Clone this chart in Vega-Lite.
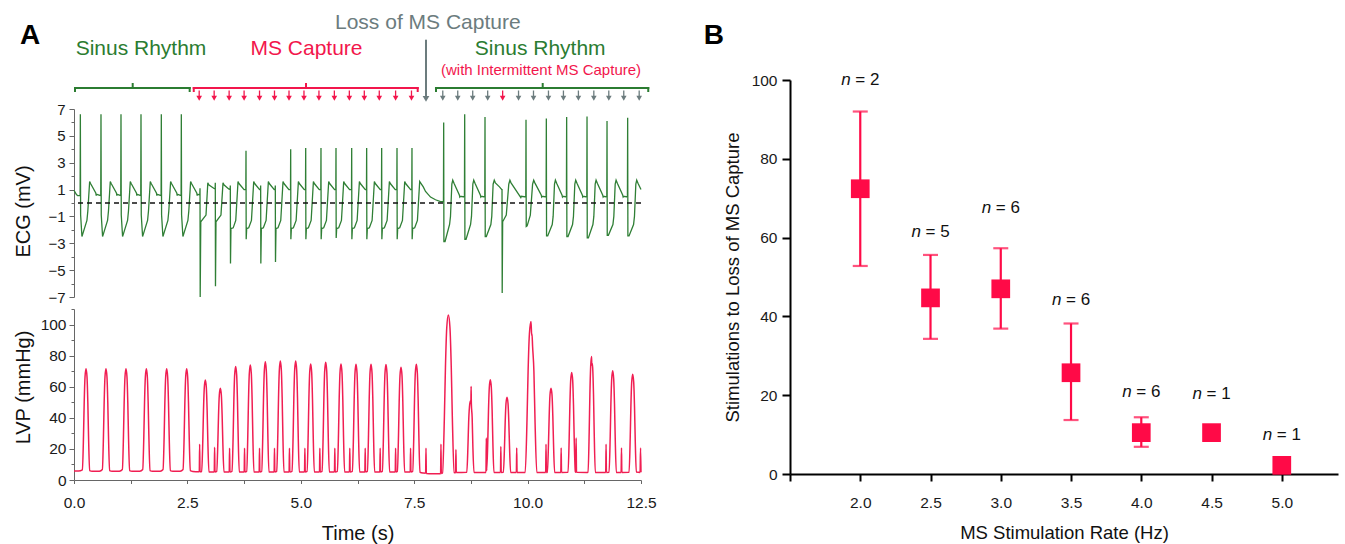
{
  "$schema": "https://vega.github.io/schema/vega-lite/v6.json",
  "background": "white",
  "padding": {"left": 12, "top": 9, "right": 5, "bottom": 5},
  "config": {
    "view": {"stroke": null},
    "font": "Liberation Sans",
    "axis": {"grid": false, "labelFont": "Liberation Sans", "titleFont": "Liberation Sans", "titleFontWeight": "normal", "labelColor": "#1a1a1a", "titleColor": "#111111", "labelOverlap": false, "labelFlush": false, "labelBound": false}
  },
  "datasets": {
    "ecg": [
      {"t":0,"v":0.95},{"t":0.05,"v":0.65},{"t":0.08,"v":0.55},{"t":0.135,"v":0.55},
      {"t":0.14,"v":6.6},{"t":0.146,"v":-0.9},{"t":0.175,"v":-2.5},{"t":0.285,"v":-1.3},{"t":0.305,"v":-0.6},{"t":0.345,"v":1.6},{"t":0.365,"v":1.45},{"t":0.48,"v":0.75},{"t":0.49,"v":0.55},{"t":0.5,"v":0.65},{"t":0.59,"v":0.55},
      {"t":0.595,"v":6.6},{"t":0.601,"v":-0.9},{"t":0.63,"v":-2.5},{"t":0.74,"v":-1.3},{"t":0.76,"v":-0.6},{"t":0.8,"v":1.6},{"t":0.82,"v":1.45},{"t":0.935,"v":0.75},{"t":0.945,"v":0.55},{"t":0.955,"v":0.65},{"t":1.031,"v":0.55},
      {"t":1.036,"v":6.6},{"t":1.042,"v":-0.9},{"t":1.071,"v":-2.5},{"t":1.181,"v":-1.3},{"t":1.201,"v":-0.6},{"t":1.241,"v":1.6},{"t":1.261,"v":1.45},{"t":1.376,"v":0.75},{"t":1.386,"v":0.55},{"t":1.396,"v":0.65},{"t":1.472,"v":0.55},
      {"t":1.477,"v":6.6},{"t":1.483,"v":-0.9},{"t":1.512,"v":-2.5},{"t":1.622,"v":-1.3},{"t":1.642,"v":-0.6},{"t":1.682,"v":1.6},{"t":1.702,"v":1.45},{"t":1.817,"v":0.75},{"t":1.827,"v":0.55},{"t":1.837,"v":0.65},{"t":1.92,"v":0.55},
      {"t":1.925,"v":6.6},{"t":1.931,"v":-0.9},{"t":1.96,"v":-2.5},{"t":2.07,"v":-1.3},{"t":2.09,"v":-0.6},{"t":2.13,"v":1.6},{"t":2.15,"v":1.45},{"t":2.265,"v":0.75},{"t":2.275,"v":0.55},{"t":2.285,"v":0.65},{"t":2.361,"v":0.55},
      {"t":2.366,"v":6.6},{"t":2.372,"v":-0.9},{"t":2.401,"v":-2.5},{"t":2.511,"v":-1.3},{"t":2.531,"v":-0.6},{"t":2.571,"v":1.6},{"t":2.591,"v":1.45},{"t":2.706,"v":0.75},{"t":2.716,"v":0.55},{"t":2.726,"v":0.65},{"t":2.773,"v":0.6},
      {"t":2.778,"v":1.1},{"t":2.782,"v":-7.0},{"t":2.795,"v":-1.4},{"t":2.91,"v":-0.9},{"t":2.95,"v":1.5},{"t":2.97,"v":1.35},{"t":3.08,"v":1.1},{"t":3.111,"v":1.05},
      {"t":3.115,"v":1.5},{"t":3.119,"v":-6.2},{"t":3.13,"v":-1.4},{"t":3.24,"v":-0.9},{"t":3.285,"v":1.5},{"t":3.305,"v":1.35},{"t":3.41,"v":1.05},{"t":3.442,"v":1.0},
      {"t":3.446,"v":1.3},{"t":3.45,"v":-4.5},{"t":3.46,"v":-1.9},{"t":3.51,"v":-1.85},{"t":3.566,"v":-1.3},{"t":3.616,"v":1.6},{"t":3.636,"v":1.45},{"t":3.75,"v":1.0},{"t":3.788,"v":1.0},
      {"t":3.792,"v":3.9},{"t":3.796,"v":-2.7},{"t":3.807,"v":-1.9},{"t":3.852,"v":-1.85},{"t":3.912,"v":-1.3},{"t":3.962,"v":1.6},{"t":3.982,"v":1.45},{"t":4.092,"v":1.0},{"t":4.111,"v":1.0},
      {"t":4.115,"v":1.3},{"t":4.119,"v":-4.5},{"t":4.13,"v":-1.9},{"t":4.175,"v":-1.85},{"t":4.235,"v":-1.3},{"t":4.285,"v":1.6},{"t":4.305,"v":1.45},{"t":4.415,"v":1.0},{"t":4.434,"v":1.0},
      {"t":4.438,"v":1.3},{"t":4.442,"v":-4.4},{"t":4.453,"v":-1.9},{"t":4.498,"v":-1.85},{"t":4.558,"v":-1.3},{"t":4.608,"v":1.6},{"t":4.628,"v":1.45},{"t":4.738,"v":1.0},{"t":4.773,"v":1.0},
      {"t":4.777,"v":4.0},{"t":4.781,"v":-2.7},{"t":4.792,"v":-1.9},{"t":4.837,"v":-1.85},{"t":4.897,"v":-1.3},{"t":4.947,"v":1.6},{"t":4.967,"v":1.45},{"t":5.077,"v":1.0},{"t":5.104,"v":1.0},
      {"t":5.108,"v":4.1},{"t":5.112,"v":-2.7},{"t":5.123,"v":-1.9},{"t":5.168,"v":-1.85},{"t":5.228,"v":-1.3},{"t":5.278,"v":1.6},{"t":5.298,"v":1.45},{"t":5.408,"v":1.0},{"t":5.441,"v":1.0},
      {"t":5.445,"v":4.1},{"t":5.449,"v":-2.7},{"t":5.46,"v":-1.9},{"t":5.505,"v":-1.85},{"t":5.565,"v":-1.3},{"t":5.615,"v":1.6},{"t":5.635,"v":1.45},{"t":5.745,"v":1.0},{"t":5.772,"v":1.0},
      {"t":5.776,"v":4.1},{"t":5.78,"v":-2.6},{"t":5.791,"v":-1.9},{"t":5.836,"v":-1.85},{"t":5.896,"v":-1.3},{"t":5.946,"v":1.6},{"t":5.966,"v":1.45},{"t":6.076,"v":1.0},{"t":6.118,"v":1.0},
      {"t":6.122,"v":4.1},{"t":6.126,"v":-2.7},{"t":6.137,"v":-1.9},{"t":6.182,"v":-1.85},{"t":6.242,"v":-1.3},{"t":6.292,"v":1.6},{"t":6.312,"v":1.45},{"t":6.422,"v":1.0},{"t":6.448,"v":1.0},
      {"t":6.452,"v":4.1},{"t":6.456,"v":-2.7},{"t":6.467,"v":-1.9},{"t":6.512,"v":-1.85},{"t":6.572,"v":-1.3},{"t":6.622,"v":1.6},{"t":6.642,"v":1.45},{"t":6.752,"v":1.0},{"t":6.779,"v":1.0},
      {"t":6.783,"v":4.1},{"t":6.787,"v":-2.7},{"t":6.798,"v":-1.9},{"t":6.843,"v":-1.85},{"t":6.903,"v":-1.3},{"t":6.953,"v":1.6},{"t":6.973,"v":1.45},{"t":7.083,"v":1.0},{"t":7.117,"v":1.0},
      {"t":7.121,"v":4.1},{"t":7.125,"v":-2.7},{"t":7.136,"v":-1.9},{"t":7.181,"v":-1.85},{"t":7.241,"v":-1.3},{"t":7.291,"v":1.6},{"t":7.311,"v":1.45},{"t":7.421,"v":1.0},{"t":7.447,"v":1.0},
      {"t":7.451,"v":4.1},{"t":7.455,"v":-2.7},{"t":7.466,"v":-1.9},{"t":7.511,"v":-1.85},{"t":7.571,"v":-1.3},{"t":7.621,"v":1.6},{"t":7.641,"v":1.5},{"t":7.7,"v":1.2},{"t":7.75,"v":0.86},{"t":7.86,"v":0.44},{"t":7.97,"v":0.24},{"t":8.08,"v":0.1},{"t":8.145,"v":0.1},
      {"t":8.15,"v":6.0},{"t":8.155,"v":-2.87},{"t":8.18,"v":-2.87},{"t":8.28,"v":-1.6},{"t":8.3,"v":-1.0},{"t":8.33,"v":1.4},{"t":8.35,"v":1.7},{"t":8.38,"v":1.45},{"t":8.495,"v":0.6},{"t":8.505,"v":0.45},{"t":8.515,"v":0.5},{"t":8.608,"v":0.45},
      {"t":8.613,"v":6.6},{"t":8.618,"v":-2.7},{"t":8.643,"v":-2.7},{"t":8.743,"v":-1.6},{"t":8.763,"v":-1.0},{"t":8.793,"v":1.4},{"t":8.813,"v":1.7},{"t":8.843,"v":1.45},{"t":8.958,"v":0.6},{"t":8.968,"v":0.45},{"t":8.978,"v":0.5},{"t":9.056,"v":0.45},
      {"t":9.061,"v":6.4},{"t":9.066,"v":-2.5},{"t":9.09,"v":-2.5},{"t":9.19,"v":-1.6},{"t":9.21,"v":-1.0},{"t":9.24,"v":1.4},{"t":9.265,"v":1.7},{"t":9.29,"v":1.5},{"t":9.38,"v":1.2},{"t":9.431,"v":1.0},
      {"t":9.436,"v":1.0},{"t":9.44,"v":-6.7},{"t":9.45,"v":-1.4},{"t":9.53,"v":-0.9},{"t":9.585,"v":1.4},{"t":9.61,"v":1.7},{"t":9.635,"v":1.5},{"t":9.84,"v":0.45},{"t":9.85,"v":0.4},{"t":9.86,"v":0.5},{"t":9.96,"v":0.45},
      {"t":9.965,"v":6.2},{"t":9.97,"v":-1.75},{"t":9.99,"v":-1.7},{"t":10.06,"v":-0.9},{"t":10.11,"v":1.4},{"t":10.135,"v":1.7},{"t":10.16,"v":1.5},{"t":10.3,"v":0.6},{"t":10.31,"v":0.45},{"t":10.32,"v":0.5},{"t":10.408,"v":0.45},
      {"t":10.413,"v":6.3},{"t":10.418,"v":-2.45},{"t":10.443,"v":-2.45},{"t":10.543,"v":-1.6},{"t":10.563,"v":-1.0},{"t":10.593,"v":1.4},{"t":10.613,"v":1.7},{"t":10.643,"v":1.45},{"t":10.758,"v":0.6},{"t":10.768,"v":0.45},{"t":10.778,"v":0.5},{"t":10.856,"v":0.45},
      {"t":10.861,"v":6.4},{"t":10.866,"v":-2.5},{"t":10.891,"v":-2.5},{"t":10.991,"v":-1.6},{"t":11.011,"v":-1.0},{"t":11.041,"v":1.4},{"t":11.061,"v":1.7},{"t":11.091,"v":1.45},{"t":11.206,"v":0.6},{"t":11.216,"v":0.45},{"t":11.226,"v":0.5},{"t":11.305,"v":0.45},
      {"t":11.31,"v":6.45},{"t":11.315,"v":-2.6},{"t":11.34,"v":-2.6},{"t":11.44,"v":-1.6},{"t":11.46,"v":-1.0},{"t":11.49,"v":1.4},{"t":11.51,"v":1.7},{"t":11.54,"v":1.45},{"t":11.655,"v":0.6},{"t":11.665,"v":0.45},{"t":11.675,"v":0.5},{"t":11.746,"v":0.45},
      {"t":11.751,"v":6.1},{"t":11.756,"v":-2.4},{"t":11.781,"v":-2.4},{"t":11.881,"v":-1.6},{"t":11.901,"v":-1.0},{"t":11.931,"v":1.4},{"t":11.951,"v":1.7},{"t":11.981,"v":1.45},{"t":12.096,"v":0.6},{"t":12.106,"v":0.45},{"t":12.116,"v":0.5},{"t":12.201,"v":0.45},
      {"t":12.206,"v":6.35},{"t":12.211,"v":-2.45},{"t":12.236,"v":-2.45},{"t":12.336,"v":-1.6},{"t":12.356,"v":-1.0},{"t":12.386,"v":1.4},{"t":12.406,"v":1.7},{"t":12.436,"v":1.45},{"t":12.5,"v":1.0}
    ],
    "lvp": [
      {"t":0,"p":5.8},{"t":0.1,"p":5.8},
      {"t":0.185,"p":6.5},{"t":0.21,"p":28.9},{"t":0.225,"p":49.9},{"t":0.243,"p":66.3},{"t":0.265,"p":71.5},{"t":0.287,"p":66.3},{"t":0.305,"p":49.9},{"t":0.32,"p":28.9},{"t":0.345,"p":6.0},{"t":0.4,"p":5.6},{"t":0.56,"p":5.7},
      {"t":0.625,"p":6.8},{"t":0.65,"p":28.9},{"t":0.665,"p":49.9},{"t":0.683,"p":66.3},{"t":0.705,"p":71.5},{"t":0.727,"p":66.3},{"t":0.745,"p":49.9},{"t":0.76,"p":28.9},{"t":0.785,"p":6.0},{"t":0.84,"p":5.6},{"t":1.0,"p":5.7},
      {"t":1.066,"p":6.8},{"t":1.091,"p":28.9},{"t":1.106,"p":49.9},{"t":1.124,"p":66.3},{"t":1.146,"p":71.5},{"t":1.168,"p":66.3},{"t":1.186,"p":49.9},{"t":1.201,"p":28.9},{"t":1.226,"p":6.0},{"t":1.28,"p":5.6},{"t":1.45,"p":5.7},
      {"t":1.515,"p":6.8},{"t":1.54,"p":28.9},{"t":1.555,"p":49.9},{"t":1.573,"p":66.3},{"t":1.595,"p":71.5},{"t":1.617,"p":66.3},{"t":1.635,"p":49.9},{"t":1.65,"p":28.9},{"t":1.675,"p":6.0},{"t":1.73,"p":5.6},{"t":1.9,"p":5.7},
      {"t":1.963,"p":6.8},{"t":1.988,"p":28.9},{"t":2.003,"p":49.9},{"t":2.021,"p":66.3},{"t":2.043,"p":71.5},{"t":2.065,"p":66.3},{"t":2.083,"p":49.9},{"t":2.098,"p":28.9},{"t":2.123,"p":6.0},{"t":2.18,"p":5.6},{"t":2.34,"p":5.7},
      {"t":2.404,"p":6.8},{"t":2.429,"p":28.9},{"t":2.444,"p":49.9},{"t":2.462,"p":66.3},{"t":2.484,"p":71.5},{"t":2.506,"p":66.3},{"t":2.524,"p":49.9},{"t":2.539,"p":28.9},{"t":2.564,"p":6.0},{"t":2.62,"p":5.5},{"t":2.755,"p":5.3},
      {"t":2.762,"p":5.3},{"t":2.77,"p":23},{"t":2.778,"p":5.3},
      {"t":2.815,"p":5.5},{"t":2.84,"p":25.9},{"t":2.855,"p":44.9},{"t":2.873,"p":59.7},{"t":2.895,"p":64.4},{"t":2.917,"p":59.7},{"t":2.935,"p":44.9},{"t":2.95,"p":25.9},{"t":2.975,"p":5.2},{"t":3.092,"p":5.1},
      {"t":3.1,"p":21},{"t":3.108,"p":5.1},
      {"t":3.146,"p":5.5},{"t":3.171,"p":24.1},{"t":3.186,"p":41.3},{"t":3.204,"p":54.8},{"t":3.226,"p":59.1},{"t":3.248,"p":54.8},{"t":3.266,"p":41.3},{"t":3.281,"p":24.1},{"t":3.306,"p":5.2},{"t":3.422,"p":5.1},
      {"t":3.43,"p":20.5},{"t":3.438,"p":5.1},
      {"t":3.484,"p":5.5},{"t":3.509,"p":28.9},{"t":3.524,"p":50.6},{"t":3.542,"p":67.6},{"t":3.564,"p":73},{"t":3.586,"p":67.6},{"t":3.604,"p":50.6},{"t":3.619,"p":28.9},{"t":3.644,"p":5.2},{"t":3.752,"p":5.1},
      {"t":3.76,"p":20.5},{"t":3.768,"p":5.1},
      {"t":3.807,"p":5.5},{"t":3.832,"p":29.3},{"t":3.847,"p":51.3},{"t":3.865,"p":68.5},{"t":3.887,"p":74},{"t":3.909,"p":68.5},{"t":3.927,"p":51.3},{"t":3.942,"p":29.3},{"t":3.967,"p":5.2},{"t":4.082,"p":5.1},
      {"t":4.09,"p":20.5},{"t":4.098,"p":5.1},
      {"t":4.138,"p":5.5},{"t":4.163,"p":30.0},{"t":4.178,"p":52.6},{"t":4.196,"p":70.3},{"t":4.218,"p":76},{"t":4.24,"p":70.3},{"t":4.258,"p":52.6},{"t":4.273,"p":30.0},{"t":4.298,"p":5.2},{"t":4.412,"p":5.1},
      {"t":4.42,"p":20.5},{"t":4.428,"p":5.1},
      {"t":4.469,"p":5.5},{"t":4.494,"p":30.2},{"t":4.509,"p":53.0},{"t":4.527,"p":70.8},{"t":4.549,"p":76.5},{"t":4.571,"p":70.8},{"t":4.589,"p":53.0},{"t":4.604,"p":30.2},{"t":4.629,"p":5.2},{"t":4.742,"p":5.1},
      {"t":4.75,"p":20.5},{"t":4.758,"p":5.1},
      {"t":4.807,"p":5.5},{"t":4.832,"p":30.2},{"t":4.847,"p":53.0},{"t":4.865,"p":70.8},{"t":4.887,"p":76.5},{"t":4.909,"p":70.8},{"t":4.927,"p":53.0},{"t":4.942,"p":30.2},{"t":4.967,"p":5.2},{"t":5.082,"p":5.1},
      {"t":5.09,"p":20.5},{"t":5.098,"p":5.1},
      {"t":5.138,"p":5.5},{"t":5.163,"p":29.5},{"t":5.178,"p":51.8},{"t":5.196,"p":69.1},{"t":5.218,"p":74.7},{"t":5.24,"p":69.1},{"t":5.258,"p":51.8},{"t":5.273,"p":29.5},{"t":5.298,"p":5.2},{"t":5.412,"p":5.1},
      {"t":5.42,"p":20.5},{"t":5.428,"p":5.1},
      {"t":5.469,"p":5.5},{"t":5.494,"p":29.9},{"t":5.509,"p":52.5},{"t":5.527,"p":70.2},{"t":5.549,"p":75.8},{"t":5.571,"p":70.2},{"t":5.589,"p":52.5},{"t":5.604,"p":29.9},{"t":5.629,"p":5.2},{"t":5.742,"p":5.1},
      {"t":5.75,"p":20.5},{"t":5.758,"p":5.1},
      {"t":5.806,"p":5.5},{"t":5.831,"p":29.5},{"t":5.846,"p":51.7},{"t":5.864,"p":69.0},{"t":5.886,"p":74.6},{"t":5.908,"p":69.0},{"t":5.926,"p":51.7},{"t":5.941,"p":29.5},{"t":5.966,"p":5.2},{"t":6.072,"p":5.1},
      {"t":6.08,"p":20.5},{"t":6.088,"p":5.1},
      {"t":6.137,"p":5.5},{"t":6.162,"p":29.5},{"t":6.177,"p":51.7},{"t":6.195,"p":69.0},{"t":6.217,"p":74.5},{"t":6.239,"p":69.0},{"t":6.257,"p":51.7},{"t":6.272,"p":29.5},{"t":6.297,"p":5.2},{"t":6.412,"p":5.1},
      {"t":6.42,"p":20.5},{"t":6.428,"p":5.1},
      {"t":6.468,"p":5.5},{"t":6.493,"p":29.5},{"t":6.508,"p":51.7},{"t":6.526,"p":69.0},{"t":6.548,"p":74.5},{"t":6.57,"p":69.0},{"t":6.588,"p":51.7},{"t":6.603,"p":29.5},{"t":6.628,"p":5.2},{"t":6.742,"p":5.1},
      {"t":6.75,"p":20.5},{"t":6.758,"p":5.1},
      {"t":6.798,"p":5.5},{"t":6.823,"p":29.4},{"t":6.838,"p":51.5},{"t":6.856,"p":68.8},{"t":6.878,"p":74.3},{"t":6.9,"p":68.8},{"t":6.918,"p":51.5},{"t":6.933,"p":29.4},{"t":6.958,"p":5.2},{"t":7.082,"p":5.1},
      {"t":7.09,"p":20.5},{"t":7.098,"p":5.1},
      {"t":7.129,"p":5.5},{"t":7.154,"p":28.8},{"t":7.169,"p":50.4},{"t":7.187,"p":67.2},{"t":7.209,"p":72.6},{"t":7.231,"p":67.2},{"t":7.249,"p":50.4},{"t":7.264,"p":28.8},{"t":7.289,"p":5.2},{"t":7.412,"p":5.1},
      {"t":7.42,"p":20.5},{"t":7.428,"p":5.1},
      {"t":7.467,"p":5.5},{"t":7.492,"p":29.5},{"t":7.507,"p":51.7},{"t":7.525,"p":69.0},{"t":7.547,"p":74.5},{"t":7.569,"p":69.0},{"t":7.587,"p":51.7},{"t":7.602,"p":29.5},{"t":7.627,"p":5.0},{"t":7.7,"p":4.5},{"t":7.752,"p":4.4},
      {"t":7.76,"p":20.5},{"t":7.768,"p":4.2},{"t":7.9,"p":4.0},{"t":8.082,"p":4.0},
      {"t":8.09,"p":23},{"t":8.098,"p":4.2},
      {"t":8.125,"p":4.5},{"t":8.165,"p":40.1},{"t":8.189,"p":72.6},{"t":8.218,"p":98.1},{"t":8.253,"p":106.2},{"t":8.288,"p":98.1},{"t":8.317,"p":72.6},{"t":8.341,"p":40.1},{"t":8.381,"p":4.8},{"t":8.412,"p":4.6},
      {"t":8.42,"p":19.6},{"t":8.428,"p":4.8},
      {"t":8.66,"p":5.0},{"t":8.685,"p":22},{"t":8.7,"p":37},{"t":8.718,"p":47},{"t":8.74,"p":51},{"t":8.75,"p":50},{"t":8.755,"p":60.2},{"t":8.76,"p":49},{"t":8.778,"p":40},{"t":8.793,"p":22},{"t":8.818,"p":4.9},{"t":9.0,"p":4.9},{"t":9.082,"p":4.9},
      {"t":9.09,"p":27},{"t":9.098,"p":6},
      {"t":9.123,"p":25.8},{"t":9.138,"p":44.8},{"t":9.156,"p":59.7},{"t":9.178,"p":64.5},{"t":9.2,"p":59.7},{"t":9.218,"p":44.8},{"t":9.233,"p":25.8},{"t":9.258,"p":4.9},{"t":9.402,"p":4.9},
      {"t":9.41,"p":21.5},{"t":9.418,"p":4.9},
      {"t":9.466,"p":5.0},{"t":9.491,"p":21.8},{"t":9.506,"p":37.3},{"t":9.524,"p":49.4},{"t":9.546,"p":53.3},{"t":9.568,"p":49.4},{"t":9.586,"p":37.3},{"t":9.601,"p":21.8},{"t":9.626,"p":4.9},{"t":9.752,"p":4.9},
      {"t":9.76,"p":20.6},{"t":9.768,"p":4.9},
      {"t":9.947,"p":4.9},{"t":9.987,"p":38.9},{"t":10.011,"p":69.9},{"t":10.04,"p":94.1},{"t":10.075,"p":101.9},{"t":10.09,"p":93},{"t":10.097,"p":94},{"t":10.11,"p":86},{"t":10.139,"p":69.9},{"t":10.163,"p":38.9},{"t":10.203,"p":4.9},{"t":10.398,"p":4.9},
      {"t":10.406,"p":23},{"t":10.414,"p":4.9},
      {"t":10.436,"p":5.0},{"t":10.461,"p":23.9},{"t":10.476,"p":41.2},{"t":10.494,"p":54.8},{"t":10.516,"p":59.1},{"t":10.538,"p":54.8},{"t":10.556,"p":41.2},{"t":10.571,"p":23.9},{"t":10.596,"p":4.9},{"t":10.732,"p":4.9},
      {"t":10.74,"p":20.6},{"t":10.748,"p":4.9},
      {"t":10.892,"p":5.0},{"t":10.917,"p":27.4},{"t":10.932,"p":48.0},{"t":10.95,"p":64.1},{"t":10.972,"p":69.2},{"t":10.994,"p":64.1},{"t":11.012,"p":48.0},{"t":11.027,"p":27.4},{"t":11.052,"p":5.5},{"t":11.062,"p":5.0},{"t":11.07,"p":27},{"t":11.078,"p":5.0},{"t":11.3,"p":4.9},
      {"t":11.333,"p":5.0},{"t":11.358,"p":31.0},{"t":11.373,"p":54.8},{"t":11.391,"p":73.4},{"t":11.41,"p":79.4},{"t":11.415,"p":74},{"t":11.425,"p":75},{"t":11.435,"p":72},{"t":11.453,"p":54.8},{"t":11.468,"p":31.0},{"t":11.493,"p":4.9},{"t":11.722,"p":4.9},
      {"t":11.73,"p":23},{"t":11.738,"p":4.9},
      {"t":11.796,"p":5.0},{"t":11.821,"p":27.8},{"t":11.836,"p":48.7},{"t":11.854,"p":65.0},{"t":11.876,"p":70.2},{"t":11.898,"p":65.0},{"t":11.916,"p":48.7},{"t":11.931,"p":27.8},{"t":11.956,"p":4.9},{"t":12.062,"p":4.9},
      {"t":12.07,"p":20.6},{"t":12.078,"p":4.9},
      {"t":12.237,"p":5.0},{"t":12.262,"p":27.0},{"t":12.277,"p":47.2},{"t":12.295,"p":63.0},{"t":12.317,"p":68.1},{"t":12.339,"p":63.0},{"t":12.357,"p":47.2},{"t":12.372,"p":27.0},{"t":12.397,"p":5.2},{"t":12.48,"p":4.9},{"t":12.49,"p":20.6},{"t":12.5,"p":5.0}
    ],
    "brackets": [
      {"t1":0.022,"t2":2.55,"v1":9,"v2":9,"grp":"sinus"},
      {"t1":0.022,"t2":0.022,"v1":9,"v2":6,"grp":"sinus"},
      {"t1":2.55,"t2":2.55,"v1":9,"v2":6,"grp":"sinus"},
      {"t1":1.294,"t2":1.294,"v1":9,"v2":13,"grp":"sinus"},
      {"t1":2.64,"t2":7.577,"v1":9,"v2":9,"grp":"capture"},
      {"t1":2.64,"t2":2.64,"v1":9,"v2":6,"grp":"capture"},
      {"t1":7.577,"t2":7.577,"v1":9,"v2":6,"grp":"capture"},
      {"t1":5.115,"t2":5.115,"v1":9,"v2":13,"grp":"capture"},
      {"t1":7.98,"t2":12.66,"v1":9,"v2":9,"grp":"sinus"},
      {"t1":7.98,"t2":7.98,"v1":9,"v2":6,"grp":"sinus"},
      {"t1":12.66,"t2":12.66,"v1":9,"v2":6,"grp":"sinus"},
      {"t1":10.333,"t2":10.333,"v1":9,"v2":13,"grp":"sinus"}
    ],
    "arrows": [
      {"t":2.76,"grp":"capture"},{"t":3.09,"grp":"capture"},{"t":3.42,"grp":"capture"},{"t":3.75,"grp":"capture"},{"t":4.09,"grp":"capture"},
      {"t":4.42,"grp":"capture"},{"t":4.74,"grp":"capture"},{"t":5.07,"grp":"capture"},{"t":5.4,"grp":"capture"},{"t":5.74,"grp":"capture"},
      {"t":6.07,"grp":"capture"},{"t":6.4,"grp":"capture"},{"t":6.73,"grp":"capture"},{"t":7.09,"grp":"capture"},{"t":7.44,"grp":"capture"},
      {"t":8.13,"grp":"loss"},{"t":8.46,"grp":"loss"},{"t":8.79,"grp":"loss"},{"t":9.12,"grp":"loss"},{"t":9.45,"grp":"capture"},
      {"t":9.8,"grp":"loss"},{"t":10.13,"grp":"loss"},{"t":10.46,"grp":"loss"},{"t":10.79,"grp":"loss"},{"t":11.12,"grp":"loss"},
      {"t":11.46,"grp":"loss"},{"t":11.79,"grp":"loss"},{"t":12.12,"grp":"loss"},{"t":12.46,"grp":"loss"}
    ],
    "rates": [
      {"rate":2.0,"mean":72.4,"lo":52.8,"hi":92.0,"ly":100.0,"lab":"= 2"},
      {"rate":2.5,"mean":44.7,"lo":34.3,"hi":55.6,"ly":61.4,"lab":"= 5"},
      {"rate":3.0,"mean":47.0,"lo":36.9,"hi":57.3,"ly":67.4,"lab":"= 6"},
      {"rate":3.5,"mean":25.7,"lo":13.7,"hi":38.2,"ly":44.1,"lab":"= 6"},
      {"rate":4.0,"mean":10.5,"lo":6.9,"hi":14.4,"ly":20.9,"lab":"= 6"},
      {"rate":4.5,"mean":10.5,"lo":null,"hi":null,"ly":20.2,"lab":"= 1"},
      {"rate":5.0,"mean":2.2,"lo":null,"hi":null,"ly":9.8,"lab":"= 1"}
    ]
  },
  "spacing": 46,
  "hconcat": [
    {
      "spacing": 12,
      "bounds": "flush",
      "vconcat": [
        {
          "width": 567,
          "height": 88,
          "encoding": {
            "x": {"type": "quantitative", "scale": {"domain": [0, 12.5], "nice": false, "zero": false}, "axis": null},
            "y": {"type": "quantitative", "scale": {"domain": [0, 88], "nice": false, "zero": false}, "axis": null}
          },
          "layer": [
            {
              "data": {"name": "brackets"},
              "mark": {"type": "rule", "strokeWidth": 2, "strokeCap": "square"},
              "encoding": {
                "x": {"field": "t1", "type": "quantitative"},
                "x2": {"field": "t2"},
                "y": {"field": "v1", "type": "quantitative"},
                "y2": {"field": "v2"},
                "color": {"field": "grp", "type": "nominal", "scale": {"domain": ["sinus", "capture", "loss"], "range": ["#2b7c31", "#f2164c", "#6c7c7e"]}, "legend": null}
              }
            },
            {
              "data": {"name": "arrows"},
              "mark": {"type": "rule", "strokeWidth": 1.3},
              "encoding": {
                "x": {"field": "t", "type": "quantitative"},
                "y": {"datum": 6.5},
                "y2": {"datum": 1},
                "color": {"field": "grp", "type": "nominal", "legend": null}
              }
            },
            {
              "data": {"name": "arrows"},
              "mark": {"type": "point", "shape": "triangle-down", "filled": true, "size": 32, "opacity": 1},
              "encoding": {
                "x": {"field": "t", "type": "quantitative"},
                "y": {"datum": -1.2},
                "color": {"field": "grp", "type": "nominal", "legend": null}
              }
            },
            {
              "data": {"values": [{"t": 7.76, "grp": "loss"}]},
              "mark": {"type": "rule", "strokeWidth": 2},
              "encoding": {
                "x": {"field": "t", "type": "quantitative"},
                "y": {"datum": 57.3},
                "y2": {"datum": 0},
                "color": {"field": "grp", "type": "nominal", "legend": null}
              }
            },
            {
              "data": {"values": [{"t": 7.76, "grp": "loss"}]},
              "mark": {"type": "point", "shape": "triangle-down", "filled": true, "size": 45, "opacity": 1},
              "encoding": {
                "x": {"field": "t", "type": "quantitative"},
                "y": {"datum": -1.8},
                "color": {"field": "grp", "type": "nominal", "legend": null}
              }
            },
            {
              "data": {"values": [
                {"t": 1.477, "v": 47.6, "label": "Sinus Rhythm", "grp": "sinus"},
                {"t": 5.125, "v": 47.6, "label": "MS Capture", "grp": "capture"},
                {"t": 10.278, "v": 47.6, "label": "Sinus Rhythm", "grp": "sinus"},
                {"t": 7.8, "v": 74.3, "label": "Loss of MS Capture", "grp": "loss"}
              ]},
              "mark": {"type": "text", "fontSize": 21, "baseline": "middle", "align": "center"},
              "encoding": {
                "x": {"field": "t", "type": "quantitative"},
                "y": {"field": "v", "type": "quantitative"},
                "text": {"field": "label"},
                "color": {"field": "grp", "type": "nominal", "legend": null}
              }
            },
            {
              "data": {"values": [{"t": 10.296, "v": 27, "label": "(with Intermittent MS Capture)", "grp": "capture"}]},
              "mark": {"type": "text", "fontSize": 15, "baseline": "middle", "align": "center"},
              "encoding": {
                "x": {"field": "t", "type": "quantitative"},
                "y": {"field": "v", "type": "quantitative"},
                "text": {"field": "label"},
                "color": {"field": "grp", "type": "nominal", "legend": null}
              }
            },
            {
              "data": {"values": [{"t": -0.97, "v": 60.7, "label": "A"}]},
              "mark": {"type": "text", "fontSize": 28, "fontWeight": "bold", "baseline": "middle", "align": "center", "color": "#000000"},
              "encoding": {
                "x": {"field": "t", "type": "quantitative"},
                "y": {"field": "v", "type": "quantitative"},
                "text": {"field": "label"}
              }
            }
          ]
        },
        {
          "width": 567,
          "height": 188,
          "encoding": {
            "x": {"type": "quantitative", "scale": {"domain": [0, 12.5], "nice": false, "zero": false}, "axis": null},
            "y": {
              "type": "quantitative",
              "scale": {"domain": [-7, 7], "nice": false, "zero": false},
              "axis": {
                "title": "ECG (mV)", "titleFontSize": 20, "titleX": -41, "titleY": 102,
                "values": [-7, -6, -5, -4, -3, -2, -1, 0, 1, 2, 3, 4, 5, 6, 7],
                "labelExpr": "datum.value % 2 != 0 ? datum.label : ''",
                "labelOverlap": false, "labelFlush": false, "labelBound": false,
                "labelFontSize": 15, "labelPadding": 4,
                "tickSize": {"condition": {"test": "datum.value % 2 != 0", "value": 5}, "value": 3},
                "domainColor": "#666666", "tickColor": "#666666"
              }
            }
          },
          "layer": [
            {
              "data": {"name": "ecg"},
              "mark": {"type": "line", "color": "#2f7f35", "strokeWidth": 1.3},
              "encoding": {
                "x": {"field": "t", "type": "quantitative"},
                "y": {"field": "v", "type": "quantitative"}
              }
            },
            {
              "data": {"values": [{"zero": 0}]},
              "mark": {"type": "rule", "color": "#111111", "strokeDash": [5, 4], "strokeWidth": 1.4},
              "encoding": {"y": {"field": "zero", "type": "quantitative"}}
            }
          ]
        },
        {
          "width": 567,
          "height": 171,
          "data": {"name": "lvp"},
          "mark": {"type": "line", "color": "#f01e52", "strokeWidth": 1.5, "interpolate": "monotone"},
          "encoding": {
            "x": {
              "field": "t", "type": "quantitative",
              "scale": {"domain": [0, 12.5], "nice": false, "zero": false},
              "axis": {
                "title": "Time (s)", "titleFontSize": 20, "titlePadding": 12,
                "values": [0, 1.25, 2.5, 3.75, 5, 6.25, 7.5, 8.75, 10, 11.25, 12.5],
                "labelExpr": "datum.value % 2.5 == 0 ? format(datum.value, '.1f') : ''",
                "labelOverlap": false, "labelFlush": false,
                "labelFontSize": 15.5, "labelPadding": 12, "tickSize": 3.5,
                "domainColor": "#666666", "tickColor": "#666666"
              }
            },
            "y": {
              "field": "p", "type": "quantitative",
              "scale": {"domain": [0, 110], "nice": false, "zero": false},
              "axis": {
                "title": "LVP (mmHg)", "titleFontSize": 20, "titleX": -41, "titleY": 78,
                "values": [0, 10, 20, 30, 40, 50, 60, 70, 80, 90, 100, 110],
                "labelExpr": "datum.value % 20 == 0 ? datum.label : ''",
                "labelOverlap": false, "labelFlush": false,
                "labelFontSize": 15.5, "labelPadding": 3,
                "tickSize": {"condition": {"test": "datum.value % 20 == 0", "value": 5}, "value": 3},
                "domainColor": "#666666", "tickColor": "#666666"
              }
            }
          }
        }
      ]
    },
    {
      "spacing": 12,
      "bounds": "flush",
      "vconcat": [
        {
          "width": 548,
          "height": 59,
          "data": {"values": [{"x": 0.959, "y": 31.7, "label": "B"}]},
          "mark": {"type": "text", "fontSize": 28, "fontWeight": "bold", "baseline": "middle", "align": "center", "color": "#000000"},
          "encoding": {
            "x": {"field": "x", "type": "quantitative", "scale": {"domain": [1.5, 5.4], "nice": false, "zero": false}, "axis": null},
            "y": {"field": "y", "type": "quantitative", "scale": {"domain": [0, 59], "nice": false, "zero": false}, "axis": null},
            "text": {"field": "label"}
          }
        },
        {
          "width": 548,
          "height": 394,
          "data": {"name": "rates"},
          "encoding": {
            "x": {
              "field": "rate", "type": "quantitative",
              "scale": {"domain": [1.5, 5.4], "nice": false, "zero": false},
              "axis": {
                "title": "MS Stimulation Rate (Hz)", "titleFontSize": 18.5, "titlePadding": 13,
                "values": [1.5, 2, 2.5, 3, 3.5, 4, 4.5, 5],
                "labelExpr": "datum.value == 1.5 ? '' : format(datum.value, '.1f')",
                "labelOverlap": false, "labelFlush": false,
                "labelFontSize": 15.5, "labelPadding": 14, "tickSize": 7, "tickWidth": 2,
                "domainWidth": 2, "domainColor": "#000000", "tickColor": "#000000"
              }
            }
          },
          "layer": [
            {
              "mark": {"type": "rule", "color": "#ff0a47", "strokeWidth": 2.2},
              "encoding": {
                "y": {
                  "field": "lo", "type": "quantitative",
                  "scale": {"domain": [0, 100], "nice": false, "zero": false},
                  "axis": {
                    "title": "Stimulations to Loss of MS Capture", "titleFontSize": 18.5, "titleX": -48,
                    "values": [0, 10, 20, 30, 40, 50, 60, 70, 80, 90, 100],
                    "labelExpr": "datum.value % 20 == 0 ? datum.label : ''",
                    "labelOverlap": false, "labelFlush": false,
                    "labelFontSize": 15.5, "labelPadding": 5,
                    "tickSize": {"condition": {"test": "datum.value % 20 == 0", "value": 8}, "value": 5.5},
                    "tickWidth": 2, "domainWidth": 2, "domainColor": "#000000", "tickColor": "#000000"
                  }
                },
                "y2": {"field": "hi"}
              }
            },
            {
              "mark": {"type": "tick", "orient": "horizontal", "color": "#ff0a47", "size": 15, "thickness": 2.2},
              "encoding": {"y": {"field": "lo", "type": "quantitative"}}
            },
            {
              "mark": {"type": "tick", "orient": "horizontal", "color": "#ff0a47", "size": 15, "thickness": 2.2},
              "encoding": {"y": {"field": "hi", "type": "quantitative"}}
            },
            {
              "mark": {"type": "point", "shape": "square", "filled": true, "size": 350, "color": "#ff0a47", "opacity": 1},
              "encoding": {"y": {"field": "mean", "type": "quantitative"}}
            },
            {
              "mark": {"type": "text", "fontSize": 17, "fontStyle": "italic", "align": "right", "dx": -9.5, "baseline": "middle", "color": "#111111"},
              "encoding": {"y": {"field": "ly", "type": "quantitative"}, "text": {"value": "n"}}
            },
            {
              "mark": {"type": "text", "fontSize": 17, "align": "left", "dx": -5, "baseline": "middle", "color": "#111111"},
              "encoding": {"y": {"field": "ly", "type": "quantitative"}, "text": {"field": "lab"}}
            }
          ]
        }
      ]
    }
  ]
}
